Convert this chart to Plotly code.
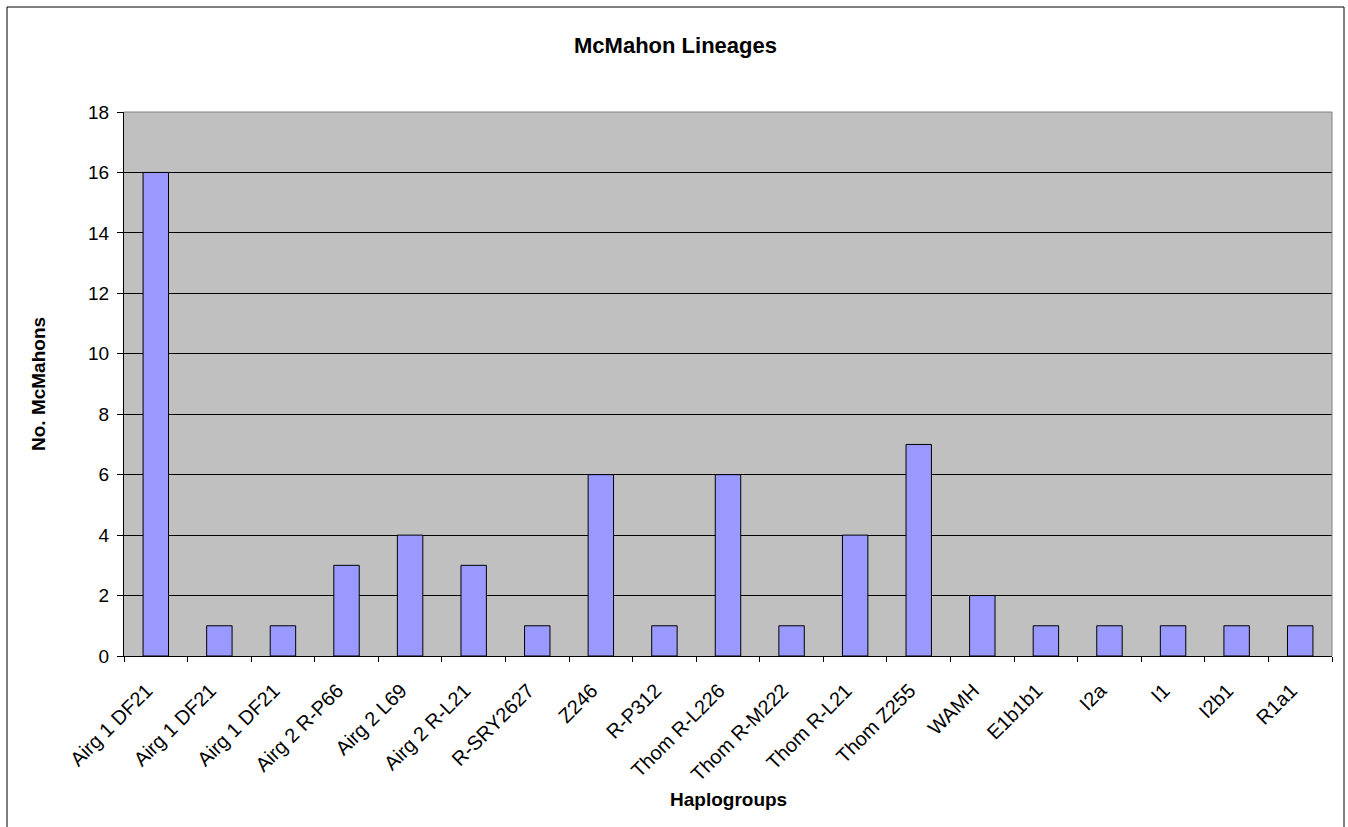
import plotly.graph_objects as go

# Haplogroup lineages and counts
haplogroups = [
    "Airg 1 DF21", "Airg 1 DF21", "Airg 1 DF21", "Airg 2 R-P66", "Airg 2 L69",
    "Airg 2 R-L21", "R-SRY2627", "Z246", "R-P312", "Thom R-L226",
    "Thom R-M222", "Thom R-L21", "Thom Z255", "WAMH", "E1b1b1",
    "I2a", "I1", "I2b1", "R1a1",
]
counts = [16, 1, 1, 3, 4, 3, 1, 6, 1, 6, 1, 4, 7, 2, 1, 1, 1, 1, 1]
y_ticks = list(range(0, 19, 2))

W, H = 1348, 827
ML, MR, MT, MB = 124, 16, 112, 171
PW, PH = W - ML - MR, H - MT - MB

def px_x(px):
    return (px - ML) / PW

def px_y(py):
    return (H - MB - py) / PH

FONT = "Arial, Liberation Sans, sans-serif"
positions = list(range(len(haplogroups)))

fig = go.Figure(
    go.Bar(
        x=positions,
        y=counts,
        marker=dict(color="#9999FF", line=dict(color="black", width=1)),
        width=0.4,
        hoverinfo="skip",
    )
)

fig.update_layout(
    width=W,
    height=H,
    margin=dict(l=ML, r=MR, t=MT, b=MB, pad=0),
    paper_bgcolor="white",
    plot_bgcolor="#C0C0C0",
    font=dict(family=FONT, size=18, color="black"),
    showlegend=False,
    title=dict(
        text="<b>McMahon Lineages</b>",
        font=dict(family=FONT, size=22, color="black"),
        xref="container", x=675.5 / W, xanchor="center",
        yref="container", y=1 - 45 / H, yanchor="middle",
    ),
)

fig.update_xaxes(
    range=[-0.5, len(haplogroups) - 0.5],
    tickmode="array",
    tickvals=positions,
    ticktext=haplogroups,
    tickangle=-45,
    ticks="",
    showgrid=False,
    zeroline=False,
    showline=True,
    linecolor="black",
    linewidth=1,
    tickfont=dict(family=FONT, size=20, color="black"),
    ticklabelstandoff=14,
    ticklabelshift=-9,
    minor=dict(
        tickmode="array",
        tickvals=[p - 0.5 for p in positions] + [len(haplogroups) - 0.5],
        ticks="outside",
        ticklen=5,
        tickcolor="black",
        tickwidth=1,
        showgrid=False,
    ),
)

fig.update_yaxes(
    range=[0, 18],
    tickmode="array",
    tickvals=y_ticks,
    ticks="outside",
    ticklen=6,
    tickcolor="black",
    tickwidth=1,
    showgrid=True,
    gridcolor="black",
    gridwidth=1,
    zeroline=False,
    showline=True,
    linecolor="black",
    linewidth=1,
    tickfont=dict(family=FONT, size=19, color="black"),
    ticklabelstandoff=4,
)

# Axis titles
fig.add_annotation(
    text="<b>Haplogroups</b>", xref="paper", yref="paper",
    x=px_x(728), y=px_y(799.5), xanchor="center", yanchor="middle",
    showarrow=False, font=dict(family=FONT, size=19, color="black"),
)
fig.add_annotation(
    text="<b>No. McMahons</b>", xref="paper", yref="paper",
    x=px_x(38), y=0.5, xanchor="center", yanchor="middle", textangle=-90,
    showarrow=False, font=dict(family=FONT, size=19, color="black"),
)

# Plot-area border (top and right edges) and chart frame
fig.add_shape(type="line", xref="paper", yref="paper", x0=0, x1=1, y0=1, y1=1,
              line=dict(color="#808080", width=1))
fig.add_shape(type="line", xref="paper", yref="paper", x0=1, x1=1, y0=0, y1=1,
              line=dict(color="#808080", width=1))
fig.add_shape(type="rect", xref="paper", yref="paper",
              x0=px_x(7), x1=px_x(1344), y0=px_y(845), y1=px_y(7),
              line=dict(color="black", width=1), fillcolor="rgba(0,0,0,0)",
              layer="below")

fig.write_html("out.html")
